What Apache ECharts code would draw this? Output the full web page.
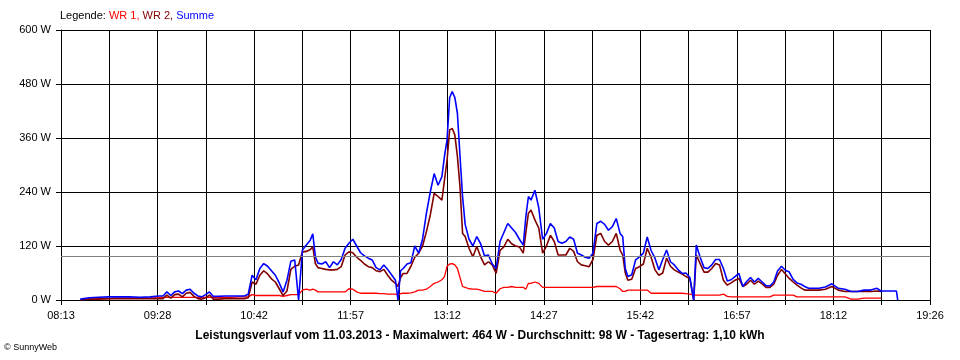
<!DOCTYPE html>
<html><head><meta charset="utf-8">
<script src="https://cdn.jsdelivr.net/npm/echarts@6/dist/echarts.min.js"></script>
<style>html,body{margin:0;padding:0;background:#fff}#c{width:960px;height:360px}</style>
</head><body><div id="c"></div>
<script>
const tickLabels = ['08:13','09:28','10:42','11:57','13:12','14:27','15:42','16:57','18:12','19:26'];
const yTicks = [0,120,240,360,480,600];
const averageW = 98;

const times = [
'08:28','08:35','08:42','08:50','08:58','09:06','09:14','09:22','09:29','09:32',
'09:35','09:38','09:41','09:44','09:47','09:50','09:53','09:56','09:59','10:02',
'10:05','10:08','10:11','10:15','10:20','10:25','10:30','10:35',
'10:38','10:41','10:44','10:47','10:50','10:53','10:56','10:59','11:02','11:05',
'11:08','11:11','11:14','11:17','11:20','11:23','11:26','11:28','11:30','11:32',
'11:35','11:38','11:41','11:44','11:47','11:50','11:53','11:56','11:59','12:02',
'12:05','12:08','12:11','12:14','12:17','12:20','12:23','12:26','12:29','12:32',
'12:34','12:36','12:38','12:41','12:44','12:47','12:50','12:53','12:56','12:59',
'13:02','13:05','13:08','13:10','13:12','13:14','13:16','13:18','13:20','13:22',
'13:24','13:26','13:29','13:32','13:35','13:38','13:41','13:44','13:47','13:50',
'13:53','13:56','13:59','14:02','14:05','14:08','14:11','14:13','14:15','14:17',
'14:20','14:23','14:26','14:29','14:32','14:35','14:38','14:41','14:44','14:47',
'14:50','14:53','14:56','14:59','15:02','15:05','15:08','15:11','15:14','15:17',
'15:20','15:23','15:26','15:28','15:30','15:32','15:35','15:38','15:41','15:44',
'15:47','15:50','15:53','15:56','15:59','16:02','16:05','16:08','16:11','16:14',
'16:17','16:20','16:23','16:25','16:28','16:31','16:34','16:37','16:40','16:43',
'16:46','16:49','16:52','16:55','16:58','17:01','17:04','17:07','17:10','17:13',
'17:16','17:19','17:22','17:25','17:28','17:31','17:34','17:37','17:40','17:43',
'17:46','17:49','17:52','17:56','18:00','18:05','18:10','18:15','18:20','18:25',
'18:30','18:35','18:40','18:45','18:48','18:54','19:00','19:01'
];

const wr1 = [
1,2,3,3,4,4,4,4,5,6, 6,6,6,6,6,6,6,6,6,6, 6,6,6,6,6,6,7,7,
7,12,10,10,10,10,10,10,10,8,
10,12,12,12,22,24,22,24,22,18,
18,18,18,18,18,18,18,25,24,18,
15,15,15,15,15,14,14,13,13,13,
11,14,15,15,16,18,22,22,24,30,
37,40,45,52,75,80,81,78,70,50,
30,28,25,24,24,22,19,19,19,15,
25,28,28,30,28,28,28,24,37,37,
40,37,28,28,28,28,28,28,28,28,
28,28,28,28,28,28,30,30,30,30,
30,30,25,19,19,22,22,22,22,22,
22,15,15,15,15,15,15,15,15,15,
14,13,11,11,11,11,11,11,11,11,
13,8,7,7,7,7,7,7,7,7,
7,7,7,11,11,11,11,11,11,7,
7,7,7,7,7,7,7,7,7,2,
2,4,4,4,4,null,null,null
];

const wr2 = [
1,2,2,3,3,3,3,3,3,3, 11,4,12,13,7,15,17,8,3,2, 5,11,2,2,3,3,3,3,
5,40,35,55,65,58,47,40,25,10,
20,68,75,78,107,108,112,118,81,72,
70,68,67,67,68,74,100,107,105,95,
88,80,74,72,65,63,68,55,44,37,
30,50,59,59,75,95,104,120,152,189,
237,230,222,267,311,378,381,367,319,252,
148,141,115,96,119,96,78,85,78,59,
110,118,135,125,120,118,104,150,193,200,
178,160,104,120,144,130,100,100,100,115,
108,85,78,76,74,90,144,148,130,122,
130,148,111,100,60,44,46,70,74,80,
115,95,67,55,60,93,75,67,62,58,
52,48,0,100,81,62,62,70,81,78,
44,33,38,44,48,30,35,44,35,42,
36,28,28,35,55,68,58,48,40,33,
27,22,22,22,22,24,30,22,19,19,
19,19,19,20,19,null,null,null
];

const summe = [
2,5,6,7,7,7,6,7,9,9, 18,10,18,20,14,22,24,15,9,7, 12,18,8,8,9,9,9,9,
13,55,45,70,81,75,65,55,38,18,
44,86,89,0,111,122,133,147,96,82,
80,85,72,85,78,90,115,126,135,120,
105,98,93,89,72,67,78,68,56,44,
0,65,70,80,83,120,104,135,193,240,
281,255,274,320,356,450,463,450,415,320,
230,168,135,120,141,125,98,100,80,70,
130,150,170,160,150,135,122,185,230,222,
244,205,135,148,170,160,130,126,130,140,
135,104,100,95,93,104,170,175,168,155,
163,181,148,141,70,52,56,89,96,104,
140,110,93,67,90,111,85,78,67,59,
60,50,0,122,95,72,70,78,90,90,
70,42,45,52,59,30,41,50,40,48,
40,32,31,40,65,75,66,62,46,38,
35,30,26,26,26,29,36,26,24,19,
19,22,22,26,20,20,20,0
];

function mins(s){const p=s.split(':');return (+p[0])*60+(+p[1]);}
const t0 = mins(tickLabels[0]);
const t1 = mins(tickLabels[tickLabels.length-1]);
const nGrid = (tickLabels.length-1)*2;
function unit(s){return (mins(s)-t0)*nGrid/(t1-t0);}
function pairs(vals){return times.map((t,i)=>[unit(t), vals[i]]);}

const FONT = 'Liberation Sans, Arial, sans-serif';
const chart = echarts.init(document.getElementById('c'), null, {renderer:'canvas'});
chart.setOption({
  animation:false,
  backgroundColor:'#ffffff',
  grid:{left:61,right:30,top:30,bottom:60,containLabel:false},
  xAxis:[
    {type:'value',min:0,max:nGrid,interval:1,
     axisLine:{show:true,onZero:false,lineStyle:{color:'#000',width:1}},
     axisTick:{show:true,length:5,lineStyle:{color:'#000'}},
     axisLabel:{show:false},
     splitLine:{show:true,lineStyle:{color:'#000',width:1}}},
    {type:'value',min:0,max:nGrid,interval:2,position:'bottom',
     axisLine:{show:false},axisTick:{show:false},splitLine:{show:false},
     axisLabel:{show:true,margin:10,color:'#000',fontSize:11,fontFamily:FONT,
       showMinLabel:true,showMaxLabel:true,
       formatter:v=>tickLabels[Math.round(v/2)]}}
  ],
  yAxis:{type:'value',min:yTicks[0],max:yTicks[yTicks.length-1],interval:yTicks[1]-yTicks[0],
     axisLine:{show:true,lineStyle:{color:'#000',width:1}},
     axisTick:{show:true,length:5,lineStyle:{color:'#000'}},
     axisLabel:{color:'#000',fontSize:11,fontFamily:FONT,margin:10,formatter:'{value} W'},
     splitLine:{show:true,lineStyle:{color:'#000',width:1}}},
  series:[
    {name:'WR 1',type:'line',xAxisIndex:0,data:pairs(wr1),showSymbol:false,symbol:'none',
     lineStyle:{color:'#ff0000',width:1.3},connectNulls:false,
     markLine:{silent:true,symbol:'none',label:{show:false},
       lineStyle:{color:'#808080',type:'solid',width:1},data:[{yAxis:averageW}]}},
    {name:'WR 2',type:'line',xAxisIndex:0,data:pairs(wr2),showSymbol:false,symbol:'none',
     lineStyle:{color:'#800000',width:1.6},connectNulls:false},
    {name:'Summe',type:'line',xAxisIndex:0,data:pairs(summe),showSymbol:false,symbol:'none',
     lineStyle:{color:'#0000ff',width:1.6},connectNulls:false}
  ],
  graphic:[
    {type:'text',left:60,top:10,style:{
      text:'{k|Legende: }{a|WR 1, }{b|WR 2, }{c|Summe}',
      rich:{k:{fill:'#000',fontSize:11,fontFamily:FONT},a:{fill:'#ff0000',fontSize:11,fontFamily:FONT},
            b:{fill:'#800000',fontSize:11,fontFamily:FONT},c:{fill:'#0000ff',fontSize:11,fontFamily:FONT}}}},
    {type:'text',left:'center',top:330,style:{
      text:'Leistungsverlauf vom 11.03.2013 - Maximalwert: 464 W - Durchschnitt: 98 W - Tagesertrag: 1,10 kWh',
      fill:'#000',font:'bold 12px '+FONT}},
    {type:'text',left:4,top:343,style:{text:'© SunnyWeb',fill:'#000',font:'9px '+FONT}}
  ]
});
</script></body></html>
